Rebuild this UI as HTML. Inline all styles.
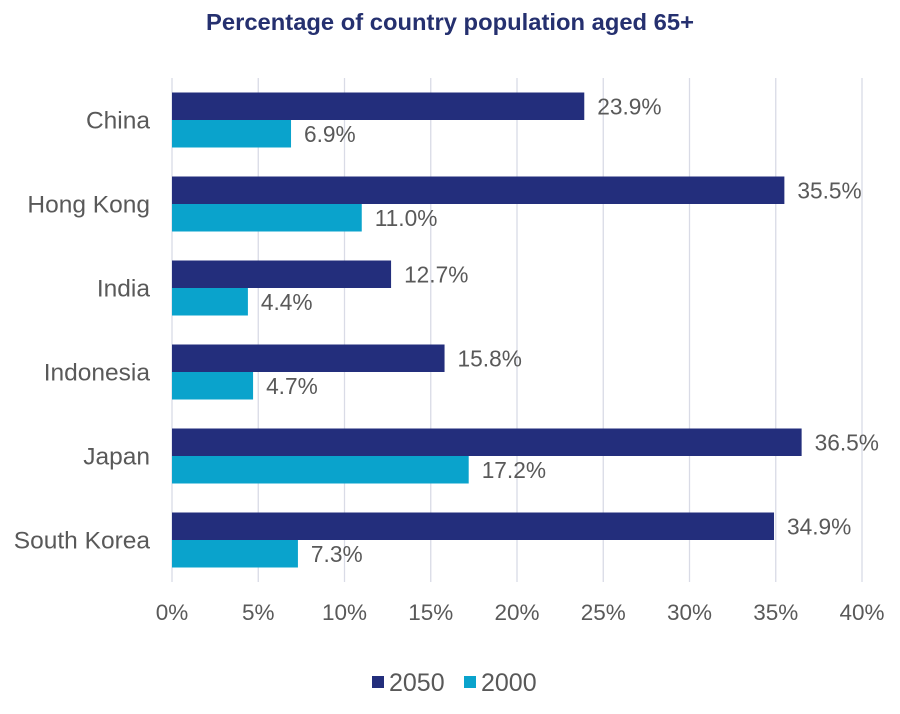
<!DOCTYPE html>
<html><head><meta charset="utf-8"><style>
body{margin:0;background:#fff;}
svg{display:block;font-family:"Liberation Sans",sans-serif;}
</style></head><body>
<svg id="chart" width="900" height="714" viewBox="0 0 900 714">
<text x="450" y="30" text-anchor="middle" font-size="23" font-weight="bold" fill="#25306f" textLength="488" lengthAdjust="spacingAndGlyphs">Percentage of country population aged 65+</text>
<g id="grid"></g><g id="bars"></g><g id="labels"></g>
<g>
<rect x="372" y="676" width="12" height="12" fill="#232e7c"/>
<text x="389" y="691" font-size="25" fill="#595959">2050</text>
<rect x="464" y="676" width="12" height="12" fill="#0aa3cc"/>
<text x="481" y="691" font-size="25" fill="#595959">2000</text>
</g>
</svg>
<script>
const categories=["China","Hong Kong","India","Indonesia","Japan","South Korea"];
const values2050=[23.9,35.5,12.7,15.8,36.5,34.9];
const values2000=[6.9,11.0,4.4,4.7,17.2,7.3];
const ticks=[0,5,10,15,20,25,30,35,40];
const NS="http://www.w3.org/2000/svg";
const x0=172,x1=862,yTop=78,yBottom=582,maxV=40;
const xs=v=>x0+(v/maxV)*(x1-x0);
const band=(yBottom-yTop)/categories.length;
const yc=i=>yTop+band*i+band/2;
function mk(t,a,p){const e=document.createElementNS(NS,t);for(const k in a)e.setAttribute(k,a[k]);p.appendChild(e);return e;}
const grid=document.getElementById('grid'),bars=document.getElementById('bars'),labels=document.getElementById('labels');
ticks.forEach(t=>{
 const l=mk('line',{x1:xs(t),x2:xs(t),y1:yTop,y2:yBottom,stroke:'#d9dbe6','stroke-width':1.3},grid);
 
 
 const tx=mk('text',{x:xs(t),y:620,'text-anchor':'middle','font-size':22.5,fill:'#595959'},grid);
 tx.textContent=t+'%';
 
 
});
const bh=27.5;
categories.forEach((c,i)=>{
 const y=yc(i);
 const ct=mk('text',{x:150,y:y+8.5,'text-anchor':'end','font-size':24.5,fill:'#595959'},labels);
 ct.textContent=c;
 
 
 [[values2050[i],'#232e7c',y-bh,'bar-2050'],[values2000[i],'#0aa3cc',y,'bar-2000']].forEach(([v,col,by,nm])=>{
  const r=mk('rect',{x:x0,y:by,width:xs(v)-x0,height:bh,fill:col},bars);
  
  
  const vt=mk('text',{x:xs(v)+13,y:by+bh/2+8,'font-size':22.7,fill:'#595959'},labels);
  vt.textContent=v.toFixed(1)+'%';
  
  
 });
});
</script>
</body></html>
